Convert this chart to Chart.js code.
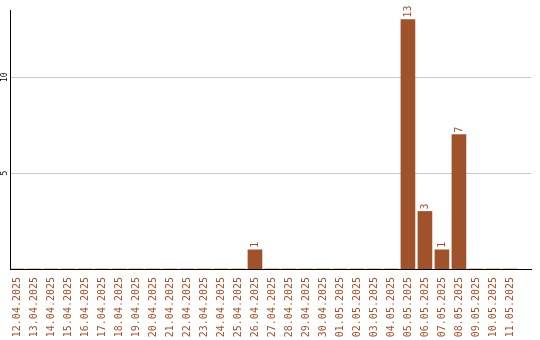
<!DOCTYPE html>
<html>
<head>
<meta charset="utf-8">
<script src="https://cdn.jsdelivr.net/npm/chart.js@4/dist/chart.umd.min.js"></script>
<style>
html,body{margin:0;padding:0;background:#fff;}
#wrap{width:540px;height:340px;position:relative;}
</style>
</head>
<body>
<div id="wrap"><canvas id="c" width="540" height="340"></canvas></div>
<script>
const dates = ["12.04.2025","13.04.2025","14.04.2025","15.04.2025","16.04.2025","17.04.2025","18.04.2025","19.04.2025","20.04.2025","21.04.2025","22.04.2025","23.04.2025","24.04.2025","25.04.2025","26.04.2025","27.04.2025","28.04.2025","29.04.2025","30.04.2025","01.05.2025","02.05.2025","03.05.2025","04.05.2025","05.05.2025","06.05.2025","07.05.2025","08.05.2025","09.05.2025","10.05.2025","11.05.2025"];
const counts = [0,0,0,0,0,0,0,0,0,0,0,0,0,0,1,0,0,0,0,0,0,0,0,13,3,1,7,0,0,0];
const yTicks = [5,10];

const BROWN = '#a0522d';
const FONT = '"DejaVu Sans Mono", "Liberation Mono", monospace';

const valueLabels = {
  id: 'valueLabels',
  afterDatasetsDraw(chart) {
    const ctx = chart.ctx;
    const meta = chart.getDatasetMeta(0);
    ctx.save();
    ctx.font = '10px ' + FONT;
    ctx.fillStyle = BROWN;
    meta.data.forEach((bar, i) => {
      const v = counts[i];
      if (!v) return;
      ctx.save();
      ctx.translate(bar.x, bar.y - 2);
      ctx.rotate(-Math.PI / 2);
      ctx.textAlign = 'left';
      ctx.textBaseline = 'middle';
      ctx.fillText(String(v), 0, 0);
      ctx.restore();
    });
    ctx.restore();
  }
};

new Chart(document.getElementById('c'), {
  type: 'bar',
  data: {
    datasets: [{
      data: counts.map((v, i) => ({x: i, y: v})),
      backgroundColor: BROWN,
      borderWidth: 0,
      barThickness: 14
    }]
  },
  options: {
    responsive: false,
    animation: false,
    layout: {padding: {left: 0, top: 10, right: 9, bottom: 0}},
    plugins: {legend: {display: false}, tooltip: {enabled: false}},
    scales: {
      x: {
        type: 'linear',
        offset: false,
        min: -0.41,
        max: 30.24,
        afterBuildTicks: s => { s.ticks = dates.map((d, i) => ({value: i})); },
        afterFit: s => { s.height = 71; s.paddingLeft = 0; s.paddingRight = 0; },
        grid: {display: false, offset: false, drawTicks: true, tickLength: 8},
        border: {display: true, color: '#000', width: 1},
        ticks: {
          autoSkip: false,
          minRotation: 90,
          maxRotation: 90,
          padding: 0,
          color: BROWN,
          font: {family: FONT, size: 10},
          callback: v => dates[v]
        }
      },
      y: {
        min: 0,
        max: 13.5,
        afterBuildTicks: s => { s.ticks = yTicks.map(v => ({value: v})); },
        afterFit: s => { s.width = 10; },
        grid: {color: '#c8c8c8', drawTicks: false},
        border: {display: true, color: '#000', width: 1},
        ticks: {
          minRotation: 90,
          maxRotation: 90,
          crossAlign: 'center',
          padding: 0,
          color: '#000',
          font: {family: FONT, size: 8}
        }
      }
    }
  },
  plugins: [valueLabels]
});
</script>
</body>
</html>
